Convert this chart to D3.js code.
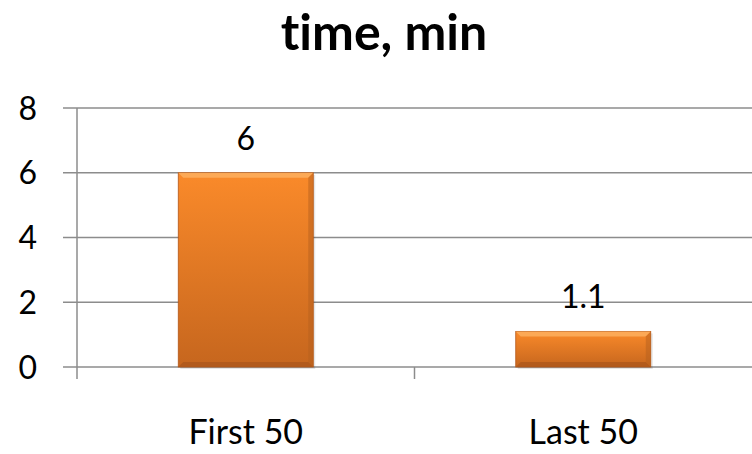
<!DOCTYPE html>
<html>
<head>
<meta charset="utf-8">
<script src="https://cdn.jsdelivr.net/npm/d3@7"></script>
<style>
  html, body { margin: 0; padding: 0; background: #fff; }
  svg { display: block; font-family: Lato, "Open Sans", sans-serif; font-variant-ligatures: none; }
</style>
</head>
<body>
<div id="chart"></div>
<script>
const categories = ['First 50', 'Last 50'];
const values = [6, 1.1];
const yTicks = [0, 2, 4, 6, 8];
const title = 'time, min';

const width = 752, height = 454;
const margin = { top: 108, right: 0, bottom: 87, left: 77 };

const svg = d3.select('#chart').append('svg')
  .attr('width', width)
  .attr('height', height);

const defs = svg.append('defs');
const grad = defs.append('linearGradient')
  .attr('id', 'barFill').attr('x1', 0).attr('y1', 0).attr('x2', 0).attr('y2', 1);
grad.append('stop').attr('offset', '0%').attr('stop-color', '#fa8a2a');
grad.append('stop').attr('offset', '100%').attr('stop-color', '#c6661e');

const x = d3.scaleBand()
  .domain(categories)
  .range([margin.left, width - margin.right])
  .paddingInner(0.6)
  .paddingOuter(0.3);

const y = d3.scaleLinear()
  .domain([0, 8])
  .range([height - margin.bottom, margin.top]);

// title
svg.append('text')
  .attr('x', 384).attr('y', 50)
  .attr('text-anchor', 'middle')
  .attr('font-size', 50).attr('font-weight', 'bold')
  .text(title);

// gridlines + y ticks
svg.append('g').selectAll('line')
  .data(yTicks)
  .join('line')
  .attr('x1', margin.left - 14).attr('x2', width)
  .attr('y1', (d) => y(d)).attr('y2', (d) => y(d))
  .attr('stroke', '#8c8c8c').attr('stroke-width', 1.5);

svg.append('g').selectAll('text')
  .data(yTicks)
  .join('text')
  .attr('x', 37).attr('y', (d) => y(d))
  .attr('dy', '0.36em')
  .attr('text-anchor', 'end')
  .attr('font-size', 32)
  .text((d) => d);

// y axis line
svg.append('line')
  .attr('x1', margin.left).attr('x2', margin.left)
  .attr('y1', y(8)).attr('y2', y(0) + 12)
  .attr('stroke', '#8c8c8c').attr('stroke-width', 1.5);

// category separator ticks
const step = x.step();
const bandEdges = categories.slice(1).map((c) => x(c) - step * x.paddingInner() / 2);
svg.append('g').selectAll('line')
  .data(bandEdges)
  .join('line')
  .attr('x1', (d) => d).attr('x2', (d) => d)
  .attr('y1', y(0)).attr('y2', y(0) + 12)
  .attr('stroke', '#8c8c8c').attr('stroke-width', 1.5);

// bars
const bars = svg.append('g').selectAll('g')
  .data(categories.map((c, i) => ({ c, v: values[i] })))
  .join('g');

bars.append('rect')
  .attr('x', (d) => x(d.c) + 2).attr('y', (d) => y(d.v) + 2)
  .attr('width', x.bandwidth()).attr('height', (d) => y(0) - y(d.v))
  .attr('fill', 'rgba(0,0,0,0.1)');

bars.append('rect')
  .attr('x', (d) => x(d.c)).attr('y', (d) => y(d.v))
  .attr('width', x.bandwidth()).attr('height', (d) => y(0) - y(d.v))
  .attr('fill', 'url(#barFill)')
  .attr('stroke', '#b4581a').attr('stroke-width', 0.8);

// bevel highlights
const bev = 5;
bars.append('path')
  .attr('d', (d) => {
    const x0 = x(d.c), x1 = x0 + x.bandwidth(), y0 = y(d.v);
    return `M${x0},${y0}L${x1},${y0}L${x1 - bev},${y0 + bev}L${x0 + bev},${y0 + bev}Z`;
  })
  .attr('fill', '#fdb466').attr('opacity', 0.75);
bars.append('path')
  .attr('d', (d) => {
    const x0 = x(d.c), x1 = x0 + x.bandwidth(), y1 = y(0);
    return `M${x0},${y1}L${x1},${y1}L${x1 - bev},${y1 - bev}L${x0 + bev},${y1 - bev}Z`;
  })
  .attr('fill', '#a9561b').attr('opacity', 0.7);
bars.append('path')
  .attr('d', (d) => {
    const x1 = x(d.c) + x.bandwidth(), y0 = y(d.v), y1 = y(0);
    return `M${x1},${y0}L${x1},${y1}L${x1 - bev},${y1 - bev}L${x1 - bev},${y0 + bev}Z`;
  })
  .attr('fill', '#b55f1d').attr('opacity', 0.5);

// data labels
bars.append('text')
  .attr('x', (d) => x(d.c) + x.bandwidth() / 2)
  .attr('y', (d) => y(d.v) - 23)
  .attr('text-anchor', 'middle')
  .attr('font-size', 32)
  .text((d) => d.v);

// category labels
svg.append('g').selectAll('text')
  .data(categories)
  .join('text')
  .attr('x', (d) => x(d) + x.bandwidth() / 2)
  .attr('y', 444)
  .attr('text-anchor', 'middle')
  .attr('font-size', 34)
  .text((d) => d);
</script>
</body>
</html>
